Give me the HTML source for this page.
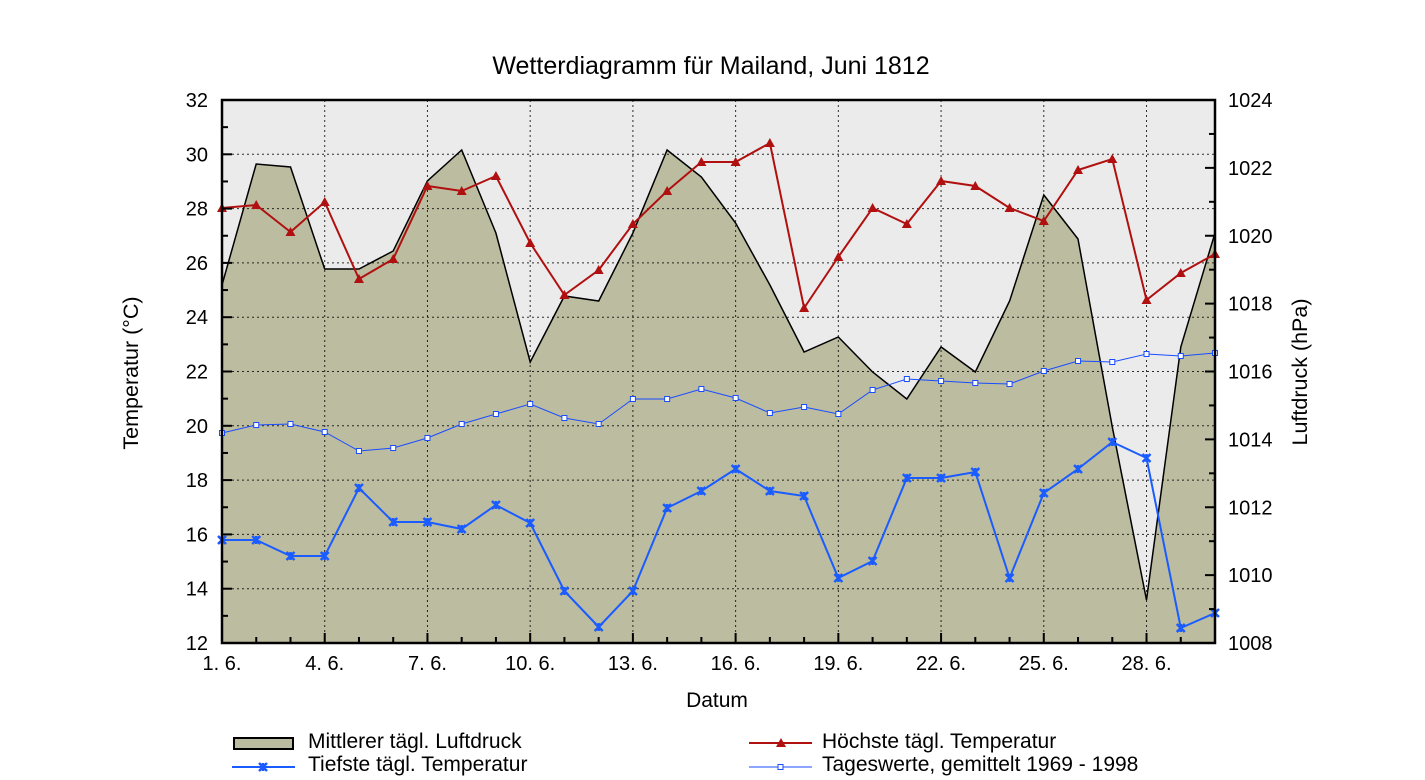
<!DOCTYPE html>
<html><head><meta charset="utf-8"><style>
html,body{margin:0;padding:0;background:#fff;}
svg{display:block;font-family:"Liberation Sans",Arial,sans-serif;}
</style></head><body>
<svg id="s" width="1425" height="780" xmlns="http://www.w3.org/2000/svg"></svg>
<script>
const L=222,R=1215,T=100,B=643,dx=(R-L)/29;
const X=d=>L+(d-1)*dx;
const P=[285,164,167,269,269,251,181,150,233,362,296,301,233,150,177,223,285,352,337,372,399,347,372,301,195,239,427,600,347,233];
const MX=[208,205,232,202,279,259,186,191,176,243,295,270,224,191,162,162,143,308,257,208,224,181,186,208,221,170,159,300,273,254];
const MN=[540,540,556,556,488,522,522,529,505,523,591,627,591,508,491,469,491,496,578,561,478,478,472,578,493,469,442,458,628,613];
const AV=[433,425,424,432,451,448,438,424,414,404,418,424,399,399,389,398,413,407,414,390,379,381,383,384,371,361,362,354,356,353];
let h='';
h+=`<rect x="${L}" y="${T}" width="${R-L}" height="${B-T}" fill="#ebebeb"/>`;
let pts=P.map((y,i)=>`${X(i+1).toFixed(1)},${y}`).join(' ');
h+=`<polygon points="${X(1)},${B} ${pts} ${X(30).toFixed(1)},${B}" fill="#bcbca0"/>`;
h+=`<polyline points="${pts}" fill="none" stroke="#000" stroke-width="1.5"/>`;
for(let t=14;t<32;t+=2){let y=B-(t-12)*(B-T)/20;h+=`<line x1="${L}" x2="${R}" y1="${y}" y2="${y}" stroke="#000" stroke-width="1" stroke-dasharray="2,3" opacity="0.8"/>`;}
for(let d=4;d<30;d+=3){let x=X(d);h+=`<line x1="${x}" x2="${x}" y1="${T}" y2="${B}" stroke="#000" stroke-width="1" stroke-dasharray="2,3" opacity="0.8"/>`;}
const line=(a,c,w)=>`<polyline points="${a.map((y,i)=>`${X(i+1).toFixed(1)},${y}`).join(' ')}" fill="none" stroke="${c}" stroke-width="${w}"/>`;
h+=line(AV,'#1a4cff',1);
AV.forEach((y,i)=>h+=`<rect x="${X(i+1)-2.5}" y="${y-2.5}" width="5" height="5" fill="#fff" stroke="#1a4cff" stroke-width="1"/>`);
h+=line(MX,'#b01010',2);
MX.forEach((y,i)=>{let x=X(i+1);h+=`<polygon points="${x-5},${y+4} ${x+5},${y+4} ${x},${y-5}" fill="#b01010"/>`;});
h+=line(MN,'#1a5cff',2);
MN.forEach((y,i)=>{let x=X(i+1);h+=`<path d="M${x-4},${y-4}L${x+4},${y+4}M${x+4},${y-4}L${x-4},${y+4}M${x},${y-4}V${y+4}" stroke="#1a5cff" stroke-width="2.5"/>`;});
h+=`<rect x="${L}" y="${T}" width="${R-L}" height="${B-T}" fill="none" stroke="#000" stroke-width="2.5"/>`;
for(let t=12;t<=32;t++){let y=B-(t-12)*(B-T)/20;let maj=t%2==0;h+=`<line x1="${L}" x2="${L+(maj?10:6)}" y1="${y}" y2="${y}" stroke="#000" stroke-width="2"/>`;if(maj)h+=`<text x="${L-14}" y="${y+7}" font-size="20" text-anchor="end">${t}</text>`;}
for(let p=1008;p<=1024;p++){let y=B-(p-1008)*(B-T)/16;let maj=p%2==0;h+=`<line x1="${R}" x2="${R-(maj?10:6)}" y1="${y}" y2="${y}" stroke="#000" stroke-width="2"/>`;if(maj)h+=`<text x="${R+13}" y="${y+7}" font-size="20">${p}</text>`;}
for(let d=1;d<=30;d++){let x=X(d);let maj=(d-1)%3==0;h+=`<line x1="${x}" x2="${x}" y1="${B}" y2="${B-(maj?10:6)}" stroke="#000" stroke-width="2"/>`;if(maj)h+=`<text x="${x}" y="${B+27}" font-size="20" text-anchor="middle">${d}. 6.</text>`;}
h+=`<text x="711" y="74" font-size="25" text-anchor="middle">Wetterdiagramm für Mailand, Juni 1812</text>`;
h+=`<text x="717" y="707" font-size="21" text-anchor="middle">Datum</text>`;
h+=`<text transform="translate(138,373) rotate(-90)" font-size="21.5" text-anchor="middle">Temperatur (°C)</text>`;
h+=`<text transform="translate(1307,372) rotate(-90)" font-size="21.5" text-anchor="middle">Luftdruck (hPa)</text>`;
h+=`<rect x="234" y="738" width="59" height="11" fill="#bcbca0" stroke="#000" stroke-width="2"/>`;
h+=`<text x="308" y="748" font-size="21">Mittlerer tägl. Luftdruck</text>`;
h+=`<line x1="232" x2="295" y1="767" y2="767" stroke="#1a5cff" stroke-width="2"/><path d="M259,763L267,771M267,763L259,771M263,763V771" stroke="#1a5cff" stroke-width="2.5"/>`;
h+=`<text x="308" y="771" font-size="21">Tiefste tägl. Temperatur</text>`;
h+=`<line x1="749" x2="812" y1="743" y2="743" stroke="#b01010" stroke-width="2"/><polygon points="776,747 786,747 781,738" fill="#b01010"/>`;
h+=`<text x="822" y="748" font-size="21">Höchste tägl. Temperatur</text>`;
h+=`<line x1="749" x2="812" y1="767" y2="767" stroke="#1a4cff" stroke-width="1"/><rect x="778" y="764.5" width="5" height="5" fill="#fff" stroke="#1a4cff"/>`;
h+=`<text x="822" y="771" font-size="21">Tageswerte, gemittelt 1969 - 1998</text>`;
document.getElementById('s').innerHTML=h;
</script>
</body></html>
